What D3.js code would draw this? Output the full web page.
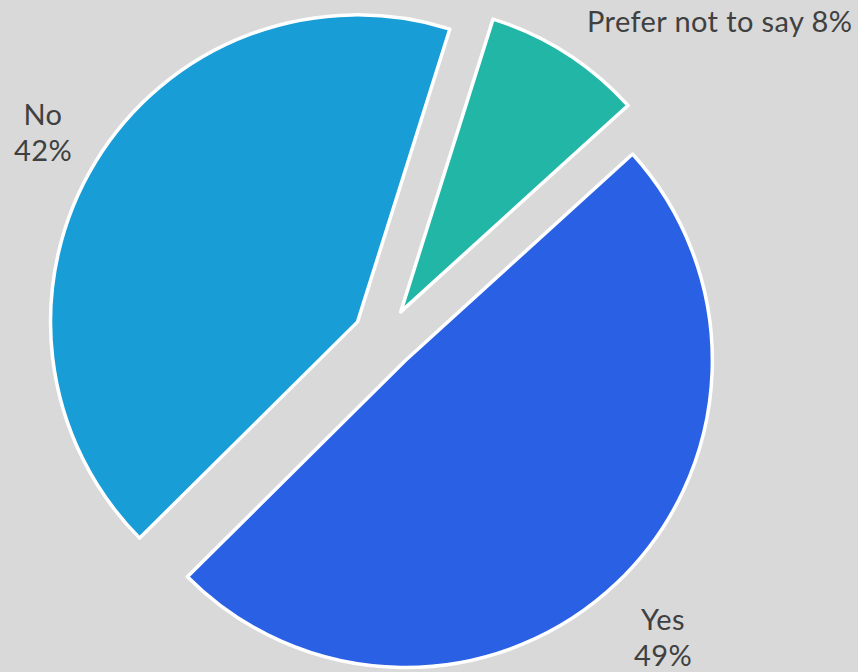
<!DOCTYPE html>
<html>
<head>
<meta charset="utf-8">
<script src="https://cdn.jsdelivr.net/npm/d3@7"></script>
<style>
  html, body { margin: 0; padding: 0; background: #d9d9d9; }
  svg { display: block; }
</style>
</head>
<body>
<svg id="chart" width="858" height="672"></svg>
<script>
const categories = ["Prefer not to say", "Yes", "No"];
const values = [8.4, 49.3, 42.3];
const labels = ["8%", "49%", "42%"];
const colors = ["#21b6a6", "#2a60e3", "#189dd6"];

const W = 858, H = 672;
const cx = 384, cy = 338, R = 307, explode = 31;
const startDeg = 17.5;

const svg = d3.select("#chart");
svg.append("rect").attr("width", W).attr("height", H).attr("fill", "#d9d9d9");

const pie = d3.pie().sort(null).value(d => d)
  .startAngle(startDeg * Math.PI / 180)
  .endAngle(startDeg * Math.PI / 180 + 2 * Math.PI);
const arcs = pie(values);
const arc = d3.arc().innerRadius(0).outerRadius(R);

const g = svg.append("g").attr("transform", `translate(${cx},${cy})`);
g.selectAll("path").data(arcs).join("path")
  .attr("d", arc)
  .attr("fill", (d, i) => colors[i])
  .attr("stroke", "#ffffff")
  .attr("stroke-width", 3.5)
  .attr("stroke-linejoin", "round")
  .attr("transform", d => {
    const a = (d.startAngle + d.endAngle) / 2;
    return `translate(${explode * Math.sin(a)},${-explode * Math.cos(a)})`;
  });

const font = "Lato, 'Open Sans', sans-serif";
const txt = svg.append("g")
  .attr("font-family", font)
  .attr("font-size", 29)
  .attr("letter-spacing", "0.4px")
  .attr("fill", "#404040");

// Prefer not to say (single line)
txt.append("text")
  .attr("x", 587).attr("y", 32)
  .attr("text-anchor", "start")
  .text(categories[0] + " " + labels[0]);

// Yes
const yesT = txt.append("text").attr("text-anchor", "middle");
yesT.append("tspan").attr("x", 663).attr("y", 630).text(categories[1]);
yesT.append("tspan").attr("x", 663).attr("y", 666).text(labels[1]);

// No
const noT = txt.append("text").attr("text-anchor", "middle");
noT.append("tspan").attr("x", 43).attr("y", 125).text(categories[2]);
noT.append("tspan").attr("x", 43).attr("y", 161).text(labels[2]);
</script>
</body>
</html>
